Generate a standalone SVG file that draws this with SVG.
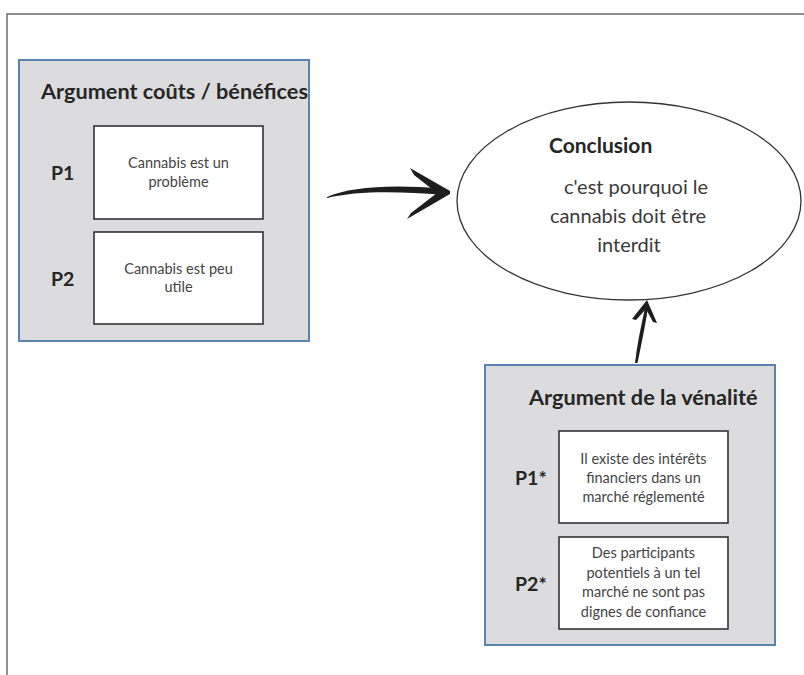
<svg xmlns="http://www.w3.org/2000/svg" width="804" height="675" viewBox="0 0 804 675">
<style>
.frame{fill:none;stroke:#6e6e6e;stroke-width:1.5}
.arg{fill:#dcdcde;stroke:#5a83b0;stroke-width:2}
.prem{fill:#ffffff;stroke:#333333;stroke-width:1.6}
.title{font-family:Lato,"Liberation Sans",sans-serif;font-weight:bold;font-size:21.7px;fill:#262626}
.lab{font-family:Lato,"Liberation Sans",sans-serif;font-weight:bold;font-size:19.5px;fill:#262626}
.txt{font-family:Lato,"Liberation Sans",sans-serif;font-size:14.5px;fill:#444444;text-anchor:middle}
.ctitle{font-family:Lato,"Liberation Sans",sans-serif;font-weight:bold;font-size:21px;fill:#262626}
.ctxt{font-family:Lato,"Liberation Sans",sans-serif;font-size:20px;fill:#3a3a3a;text-anchor:middle}
.arrow{fill:#1e1e1e}
</style>
<rect width="804" height="675" fill="#ffffff"/>
<path class="frame" d="M7,675 L7,14 L804,14"/>
<g id="arg1">
<rect class="arg" x="19" y="60" width="290" height="281"/>
<text class="title" x="41" y="99">Argument coûts / bénéfices</text>
<text class="lab" x="51" y="180">P1</text>
<rect class="prem" x="94" y="126" width="169" height="93"/>
<text class="txt" x="178.5" y="168">Cannabis est un</text>
<text class="txt" x="178.5" y="187">problème</text>
<text class="lab" x="51" y="286">P2</text>
<rect class="prem" x="94" y="232" width="169" height="92"/>
<text class="txt" x="178.5" y="274">Cannabis est peu</text>
<text class="txt" x="178.5" y="292">utile</text>
</g>
<g id="conclusion">
<ellipse cx="629" cy="201" rx="172" ry="99" fill="#ffffff" stroke="#333333" stroke-width="1.3"/>
<text class="ctitle" x="549" y="153">Conclusion</text>
<text class="ctxt" x="636" y="194">c'est pourquoi le</text>
<text class="ctxt" x="628" y="223">cannabis doit être</text>
<text class="ctxt" x="629" y="252">interdit</text>
</g>
<g id="arg2">
<rect class="arg" x="485" y="365" width="290" height="280"/>
<text class="title" x="529" y="405">Argument de la vénalité</text>
<text class="lab" x="515" y="485">P1*</text>
<rect class="prem" x="559" y="431" width="169" height="92"/>
<text class="txt" x="643.5" y="464">Il existe des intérêts</text>
<text class="txt" x="643.5" y="483">financiers dans un</text>
<text class="txt" x="643.5" y="502">marché réglementé</text>
<text class="lab" x="515" y="591">P2*</text>
<rect class="prem" x="559" y="537" width="169" height="92"/>
<text class="txt" x="643.5" y="558">Des participants</text>
<text class="txt" x="643.5" y="578">potentiels à un tel</text>
<text class="txt" x="643.5" y="597">marché ne sont pas</text>
<text class="txt" x="643.5" y="617">dignes de confiance</text>
</g>
<g id="connectors">
<path class="arrow" d="M327,197 C350,187 392,184 444,189 L444,195 C396,191 356,191 327,198 Z"/>
<path class="arrow" d="M410,168 L450,191 L450,194 L407,219 L411,213 L437,193 L414,175 Z"/>
<path class="arrow" d="M635,363 C637,345 641,326 645,308 L648,308 C645,327 641,346 637.5,363 Z"/>
<path class="arrow" d="M632,319 L647,300 L657,323 L653,322 L646,309 L636,320 Z"/>
</g>
</svg>
